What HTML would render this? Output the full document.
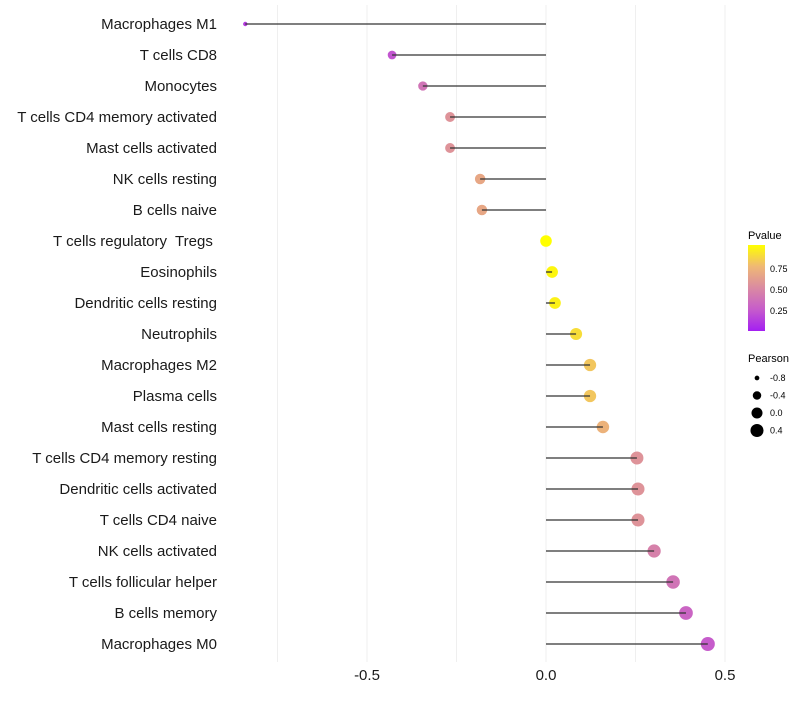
<!DOCTYPE html>
<html><head><meta charset="utf-8"><style>
body{margin:0;background:#fff;font-family:"Liberation Sans",sans-serif;}
</style></head><body>
<svg id="chart" width="800" height="700" xmlns="http://www.w3.org/2000/svg" font-family="Liberation Sans, sans-serif">
<g id="grid"></g>
<g id="marks"></g>
<g id="ylabels"></g>
<g id="xlabels"></g>
<g>
<defs><linearGradient id="pg" x1="0" y1="1" x2="0" y2="0">
<stop offset="0" stop-color="#a41ff2"/><stop offset="0.25" stop-color="#c65ccb"/>
<stop offset="0.5" stop-color="#da8aa2"/><stop offset="0.75" stop-color="#efb875"/>
<stop offset="1" stop-color="#ffff00"/></linearGradient></defs>
<text x="748" y="239" font-size="11">Pvalue</text>
<rect x="748" y="245" width="17" height="86" fill="url(#pg)"/>
<text x="770" y="272" font-size="9">0.75</text>
<text x="770" y="293" font-size="9">0.50</text>
<text x="770" y="314" font-size="9">0.25</text>
</g>
<g id="sizeleg">
<text x="748" y="362" font-size="11">Pearson</text>
</g>
</svg>
<script>
const categories=["Macrophages M1","T cells CD8","Monocytes","T cells CD4 memory activated","Mast cells activated","NK cells resting","B cells naive","T cells regulatory\u00a0 Tregs\u00a0","Eosinophils","Dendritic cells resting","Neutrophils","Macrophages M2","Plasma cells","Mast cells resting","T cells CD4 memory resting","Dendritic cells activated","T cells CD4 naive","NK cells activated","T cells follicular helper","B cells memory","Macrophages M0"];
const pearson=[-0.84,-0.43,-0.344,-0.268,-0.268,-0.184,-0.179,0.0,0.017,0.025,0.084,0.123,0.123,0.159,0.254,0.257,0.257,0.302,0.355,0.391,0.452];
const pvalues=[0.12,0.22,0.38,0.55,0.55,0.66,0.66,1.0,0.97,0.95,0.88,0.8,0.8,0.72,0.55,0.55,0.55,0.45,0.38,0.3,0.25];
const xTicks=[-0.5,0.0,0.5];
const xTickLabels=["-0.5","0.0","0.5"];
const sizeLegend=[-0.8,-0.4,0.0,0.4];
const sizeLegendLabels=["-0.8","-0.4","0.0","0.4"];
const NS="http://www.w3.org/2000/svg";
const xS=v=>546+v*358;
const yS=i=>24+i*31;
const rS=p=>Math.sqrt(Math.max(2,33.6+34.2*p));
function lerp(a,b,t){return a+(b-a)*t;}
const stops=[[0,[164,31,242]],[0.25,[198,92,203]],[0.5,[218,138,162]],[0.75,[239,184,117]],[1,[255,255,0]]];
function col(p){for(let k=0;k<stops.length-1;k++){const [a,ca]=stops[k],[b,cb]=stops[k+1];if(p<=b){const t=(p-a)/(b-a);return `rgb(${ca.map((c,j)=>Math.round(lerp(c,cb[j],t))).join(',')})`;}}return 'rgb(255,255,0)';}
function mk(tag,attrs,parent){const e=document.createElementNS(NS,tag);for(const k in attrs)e.setAttribute(k,attrs[k]);parent.appendChild(e);return e;}
const grid=document.getElementById('grid'),marks=document.getElementById('marks'),yl=document.getElementById('ylabels'),xl=document.getElementById('xlabels'),sl=document.getElementById('sizeleg');
for(let v=-0.75;v<=0.5;v+=0.25){const g=mk('line',{x1:xS(v),x2:xS(v),y1:5,y2:662,stroke:'#efefef','stroke-width':1},grid);

}
categories.forEach((c,i)=>{
const y=yS(i);
const t=mk('text',{x:217,y:y+5,'font-size':15,'text-anchor':'end',fill:'#1a1a1a'},yl);t.textContent=c;


const d=mk('circle',{cx:xS(pearson[i]),cy:y,r:rS(pearson[i]),fill:col(pvalues[i])},marks);


const l=mk('line',{x1:xS(0),x2:xS(pearson[i]),y1:y,y2:y,stroke:'#333','stroke-width':1.3},marks);


});
xTicks.forEach((v,i)=>{const t=mk('text',{x:xS(v),y:680,'font-size':15,'text-anchor':'middle',fill:'#1a1a1a'},xl);t.textContent=xTickLabels[i];

});
sizeLegend.forEach((p,i)=>{const y=378+i*17.5;
const c=mk('circle',{cx:757,cy:y,r:rS(p)*0.95,fill:'#000'},sl);


const t=mk('text',{x:770,y:y+3,'font-size':9},sl);t.textContent=sizeLegendLabels[i];

});
</script>
</body></html>
